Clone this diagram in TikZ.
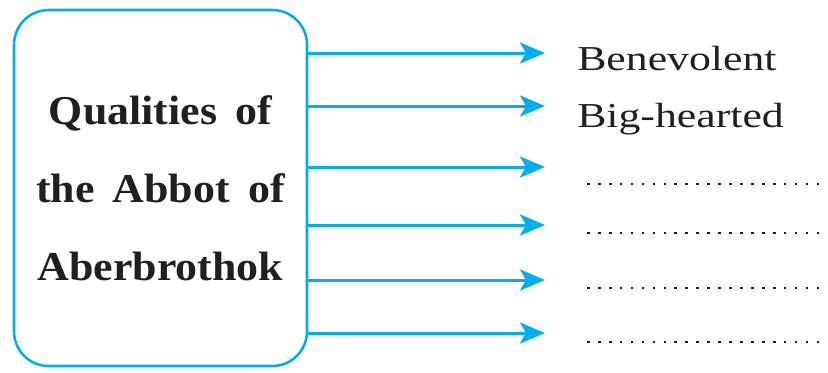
\documentclass[tikz,border=0pt]{standalone}
\usepackage{fontspec}
\setmainfont{Liberation Serif}[FakeStretch=1.25]
\newfontfamily\boxfont{Liberation Serif}[FakeStretch=1.07]
\usetikzlibrary{arrows.meta}
\definecolor{qcyan}{RGB}{0,174,239}
\definecolor{inkgray}{RGB}{35,31,32}
\begin{document}
\begin{tikzpicture}[x=.75pt, y=-.75pt,
  qualbox/.style={draw=qcyan, line width=1.9pt, rounded corners=26pt,
    minimum width=293*.75pt, minimum height=356*.75pt, align=center,
    text=inkgray, font={\boxfont\bfseries\fontsize{30.75pt}{58.5pt}\selectfont\spaceskip=.45em}},
  quality/.style={anchor=base west, inner sep=0pt, text=inkgray,
    font={\fontsize{26.25pt}{30pt}\selectfont}},
  pointer/.style={draw=qcyan, line width=2.25pt,
    -{Stealth[length=18.75pt, width=15.75pt, inset=4.5pt]}},
  blank/.style={draw=inkgray, line width=2pt, dash pattern=on 2pt off 6.2pt}]
\useasboundingbox (0,0) rectangle (828,372);

\node[qualbox] (qual) at (160.5,188) {Qualities of\\the Abbot of\\Aberbrothok};

\node[quality] (benevolent) at (577,70) {Benevolent};
\node[quality] (bighearted) at (577,127) {Big-hearted};

\foreach \n/\y in {1/53,2/106,3/167,4/225,5/280,6/333} {
  \coordinate (tip\n) at (545,\y);
  \draw[pointer] (qual.east |- tip\n) -- (tip\n);
}

\foreach \n/\y in {3/184,4/233,5/288,6/342} {
  \coordinate (blank\n) at (587,\y);
  \draw[blank] (blank\n) -- ++(241,0);
}

\end{tikzpicture}
\end{document}
